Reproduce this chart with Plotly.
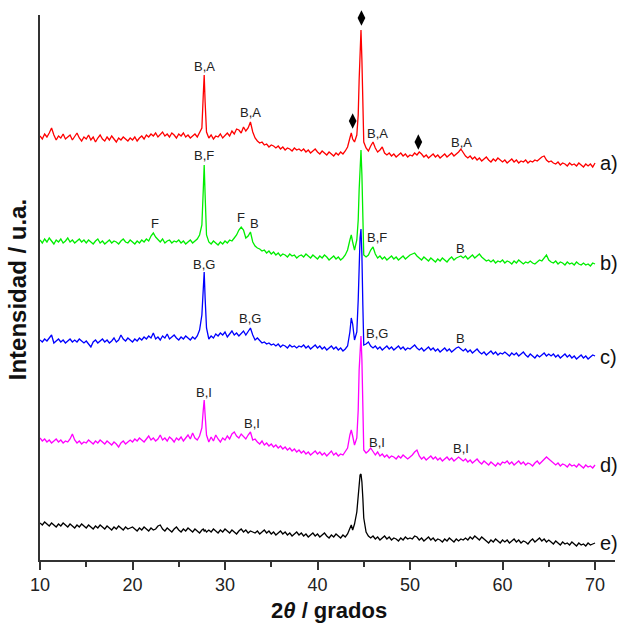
import plotly.graph_objects as go

# ---------------- data (2-theta grid and intensities, arbitrary units) ----------------
two_theta = [
    10.0, 10.25, 10.5, 10.75, 11.0, 11.25, 11.5, 11.75, 12.0, 12.25, 12.5, 12.75, 13.0, 13.25, 13.5, 13.75, 14.0, 14.25, 14.5, 14.75,
    15.0, 15.25, 15.5, 15.75, 16.0, 16.25, 16.5, 16.75, 17.0, 17.25, 17.5, 17.75, 18.0, 18.25, 18.5, 18.75, 19.0, 19.25, 19.5, 19.75,
    20.0, 20.25, 20.5, 20.75, 21.0, 21.25, 21.5, 21.75, 22.0, 22.25, 22.5, 22.75, 23.0, 23.25, 23.5, 23.75, 24.0, 24.25, 24.5, 24.75,
    25.0, 25.25, 25.5, 25.75, 26.0, 26.25, 26.5, 26.75, 27.0, 27.25, 27.5,
    27.65, 27.75, 27.85, 28.0,
    28.25, 28.5, 28.75, 29.0, 29.25, 29.5, 29.75, 30.0, 30.25, 30.5, 30.75, 31.0, 31.25, 31.5, 31.75, 32.0, 32.25, 32.5, 32.75, 33.0,
    33.25, 33.5, 33.75, 34.0, 34.25, 34.5, 34.75, 35.0, 35.25, 35.5, 35.75, 36.0, 36.25, 36.5, 36.75, 37.0, 37.25, 37.5, 37.75, 38.0,
    38.25, 38.5, 38.75, 39.0, 39.25, 39.5, 39.75, 40.0, 40.25, 40.5, 40.75, 41.0, 41.25, 41.5, 41.75, 42.0, 42.25, 42.5, 42.75, 43.0, 43.25,
    43.5, 43.65, 43.8, 44.0, 44.25, 44.4, 44.5, 44.6, 44.7, 44.8, 44.9, 45.0,
    45.25, 45.5, 45.75, 46.0, 46.25, 46.5, 46.75, 47.0, 47.25, 47.5, 47.75, 48.0, 48.25, 48.5, 48.75, 49.0, 49.25, 49.5, 49.75, 50.0,
    50.25, 50.5, 50.75, 51.0, 51.25, 51.5, 51.75, 52.0, 52.25, 52.5, 52.75, 53.0, 53.25, 53.5, 53.75, 54.0, 54.25, 54.5, 54.75, 55.0,
    55.25, 55.5, 55.75, 56.0, 56.25, 56.5, 56.75, 57.0, 57.25, 57.5, 57.75, 58.0, 58.25, 58.5, 58.75, 59.0, 59.25, 59.5, 59.75, 60.0,
    60.25, 60.5, 60.75, 61.0, 61.25, 61.5, 61.75, 62.0, 62.25, 62.5, 62.75, 63.0, 63.25, 63.5, 63.75, 64.0, 64.25, 64.5, 64.75, 65.0,
    65.25, 65.5, 65.75, 66.0, 66.25, 66.5, 66.75, 67.0, 67.25, 67.5, 67.75, 68.0, 68.25, 68.5, 68.75, 69.0, 69.25, 69.5, 69.75, 70.0,
]

int_a = [
    424, 421, 426, 423, 427, 432, 425, 420, 424, 422, 426, 421, 423, 425, 420, 424, 427, 422, 419, 423,
    421, 425, 420, 423, 418, 422, 425, 421, 419, 423, 420, 424, 421, 418, 422, 420, 423, 421, 419, 422,
    420, 423, 419, 422, 424, 421, 425, 423, 426, 424, 427, 423, 425, 428, 424, 426, 423, 427, 425, 422,
    426, 424, 427, 423, 425, 422, 424, 426, 423, 427, 432,
    465, 485, 458, 428,
    422, 425, 421, 424, 423, 426, 422, 425, 427, 424, 429, 426, 431, 430, 427, 433, 429, 432, 438, 428,
    422, 419, 417, 418, 415, 416, 413, 415, 414, 412, 414, 411, 413, 410, 412, 411, 409, 412, 410, 411,
    409, 411, 408, 410, 407, 409, 411, 408, 406, 409, 407, 405, 408, 406, 404, 407, 405, 408, 406, 409, 413,
    422, 427, 421, 418, 425, 445, 480, 518, 530, 500, 450, 418,
    412, 409, 414, 418, 412, 408, 410, 413, 407, 405, 407, 404, 406, 403, 405, 407, 404, 406, 403, 405,
    404, 407, 405, 408, 406, 403, 405, 402, 404, 406, 403, 405, 402, 404, 406, 403, 405, 407, 404, 406,
    408, 411, 407, 404, 402, 404, 401, 403, 400, 402, 399, 401, 403, 400, 398, 401, 399, 402, 400, 398,
    400, 397, 399, 401, 398, 400, 397, 399, 398, 400, 397, 399, 398, 400, 399, 401, 403, 404, 400, 398,
    399, 397, 396, 398, 395, 397, 396, 394, 397, 395, 396, 394, 397, 395, 393, 396, 394, 396, 393, 397,
]

int_b = [
    320, 317, 321, 318, 322, 319, 316, 320, 318, 321, 317, 319, 322, 318, 320, 317, 319, 321, 318, 320,
    317, 320, 318, 316, 319, 321, 317, 319, 316, 318, 320, 317, 319, 318, 316, 319, 321, 318, 317, 320,
    318, 316, 319, 317, 320, 318, 321, 319, 324, 327, 323, 320, 318, 321, 317, 319, 320, 317, 319, 318,
    320, 317, 319, 316, 318, 320, 317, 319, 321, 325, 335,
    370, 395, 365, 325,
    318, 316, 319, 317, 315, 318, 316, 319, 317, 320, 319, 322, 325, 330, 333, 330, 322, 324, 328, 318,
    314, 312, 311, 309, 310, 307, 309, 306, 308, 305, 307, 304, 306, 305, 303, 306, 304, 305, 302, 304,
    305, 303, 306, 304, 302, 305, 303, 301, 304, 302, 305, 303, 300, 302, 304, 301, 303, 300, 302, 305, 310,
    320, 325, 318, 310, 320, 340, 370, 400, 410, 385, 335, 305,
    303, 305, 310, 313, 306, 302, 304, 301, 303, 300, 302, 304, 301, 303, 300, 302, 304, 301, 303, 305,
    306, 307, 304, 302, 300, 303, 301, 299, 302, 300, 298, 301, 299, 302, 300, 298, 301, 303, 300, 302,
    303, 304, 302, 304, 301, 303, 305, 302, 304, 306, 303, 301, 299, 300, 298, 300, 297, 299, 298, 300,
    297, 299, 298, 296, 299, 297, 300, 298, 296, 298, 297, 299, 297, 296, 298, 300, 299, 302, 305, 300,
    298, 297, 299, 296, 298, 297, 295, 298, 296, 297, 295, 298, 296, 295, 297, 295, 296, 294, 297, 296,
]

int_c = [
    220, 218, 221, 219, 222, 225, 217, 219, 221, 218, 220, 217, 219, 221, 218, 220, 218, 221, 219, 217,
    219, 216, 213, 218, 220, 217, 219, 221, 218, 220, 217, 219, 222, 218, 220, 225, 221, 219, 222, 220,
    218, 221, 219, 222, 220, 223, 221, 224, 222, 227, 221, 223, 220, 224, 222, 226, 221, 223, 225, 222,
    220, 223, 221, 224, 222, 220, 223, 221, 224, 230, 245,
    270, 288, 262, 232,
    221, 224, 222, 226, 224, 227, 225, 228, 223, 226, 229, 225, 227, 224, 226, 229, 225, 228, 232, 225,
    220, 222, 219, 217, 218, 216, 217, 215, 216, 214, 216, 213, 215, 214, 212, 215, 213, 214, 212, 214,
    213, 215, 212, 214, 211, 213, 215, 212, 214, 211, 213, 210, 212, 214, 211, 213, 210, 212, 209, 211, 214,
    228, 242, 236, 220, 228, 260, 295, 322, 331, 305, 255, 215,
    216, 218, 214, 212, 214, 211, 213, 210, 212, 214, 211, 213, 210, 212, 214, 211, 213, 210, 212, 211,
    213, 215, 212, 210, 212, 209, 211, 213, 210, 212, 209, 211, 208, 210, 212, 209, 211, 208, 210, 212,
    213, 211, 209, 211, 208, 210, 207, 209, 211, 208, 206, 208, 205, 207, 209, 206, 208, 205, 207, 206,
    208, 206, 204, 207, 205, 207, 204, 206, 208, 205, 203, 206, 204, 202, 205, 203, 205, 207, 204, 206,
    204, 206, 203, 205, 202, 204, 206, 203, 205, 202, 204, 201, 203, 205, 202, 204, 201, 203, 205, 204,
]

int_d = [
    122, 119, 121, 118, 120, 117, 119, 121, 118, 120, 117, 119, 118, 121, 126, 120, 117, 119, 116, 118,
    117, 120, 118, 116, 119, 117, 120, 118, 116, 119, 117, 115, 118, 116, 113, 117, 119, 116, 118, 120,
    118, 121, 119, 122, 120, 118, 121, 124, 120, 122, 119, 121, 125, 120, 122, 119, 123, 121, 118, 122,
    120, 123, 119, 122, 125, 121, 127, 122, 120, 124, 132,
    150, 160, 145, 125,
    118, 123, 119, 125, 121, 118, 122, 120, 124, 121, 126, 128, 124, 122, 126, 123, 121, 125, 128, 120,
    121, 118, 116, 119, 115, 117, 114, 116, 113, 115, 112, 114, 111, 113, 110, 112, 109, 111, 108, 110,
    107, 109, 106, 108, 105, 107, 109, 106, 108, 105, 107, 104, 106, 109, 105, 107, 104, 106, 105, 108, 112,
    125, 130, 124, 115, 122, 150, 190, 218, 224, 200, 150, 110,
    107, 109, 112, 108, 105, 108, 104, 106, 103, 105, 102, 104, 103, 101, 104, 102, 105, 103, 101, 103,
    105, 108, 110, 104, 101, 103, 100, 102, 104, 101, 103, 100, 102, 99, 101, 103, 100, 102, 99, 101,
    103, 101, 99, 101, 98, 100, 97, 99, 101, 98, 96, 99, 97, 95, 98, 96, 94, 97, 95, 98,
    97, 99, 96, 98, 95, 97, 99, 96, 98, 95, 97, 96, 94, 97, 99, 96, 98, 100, 103, 101,
    99, 97, 95, 97, 94, 96, 95, 93, 96, 94, 95, 93, 96, 94, 92, 95, 93, 94, 92, 95,
]

int_e = [
    37, 35, 38, 36, 34, 37, 35, 33, 36, 34, 37, 35, 33, 36, 34, 32, 35, 33, 36, 34,
    32, 35, 33, 31, 34, 32, 35, 33, 31, 34, 32, 30, 33, 31, 34, 32, 30, 33, 31, 32,
    33, 31, 29, 32, 30, 33, 31, 29, 32, 30, 31, 34, 35, 31, 29, 32, 30, 28, 31, 33,
    30, 28, 31, 29, 32, 30, 28, 31, 29, 27, 30,
    31, 29, 30, 28,
    30, 28, 31, 29, 27, 30, 28, 31, 29, 27, 30, 28, 26, 29, 31, 28, 30, 27, 29, 28,
    27, 29, 26, 28, 30, 27, 29, 26, 28, 25, 27, 29, 26, 28, 25, 27, 24, 26, 28, 25,
    27, 24, 26, 23, 25, 27, 24, 26, 23, 25, 27, 24, 22, 25, 23, 26, 24, 22, 25, 23, 26,
    33, 35, 30, 36, 48, 65, 78, 85, 86, 78, 62, 42,
    28, 24, 22, 24, 21, 23, 20, 22, 24, 21, 23, 20, 22, 21, 19, 22, 20, 23, 21, 22,
    21, 24, 23, 20, 22, 19, 21, 23, 20, 22, 19, 21, 20, 18, 21, 19, 22, 20, 18, 21,
    19, 21, 20, 22, 20, 23, 21, 24, 22, 20, 23, 21, 19, 17, 20, 18, 21, 19, 17, 20,
    18, 20, 17, 19, 21, 18, 20, 17, 19, 18, 16, 19, 21, 18, 20, 22, 19, 21, 18, 20,
    18, 16, 19, 17, 15, 18, 16, 17, 15, 18, 16, 14, 17, 15, 16, 14, 17, 15, 16, 17,
]

series_names = ["a)", "b)", "c)", "d)", "e)"]
series_values = [int_a, int_b, int_c, int_d, int_e]
series_end_level = [397, 297, 203, 95, 17]

# phase labels: text, 2theta, intensity level
peak_label_text = ["B,A", "B,A", "B,A", "B,A",
                   "B,F", "F", "F", "B", "B,F", "B",
                   "B,G", "B,G", "B,G", "B",
                   "B,I", "B,I", "B,I", "B,I"]
peak_label_x = [27.75, 32.75, 46.45, 55.55,
                27.75, 22.45, 31.75, 33.2, 46.45, 55.5,
                27.75, 32.75, 46.45, 55.5,
                27.75, 32.9, 46.45, 55.55]
peak_label_y = [494, 448, 427, 418,
                405, 337, 343, 337, 323, 312,
                296, 242, 227, 222,
                168, 137, 118, 112]

diamond_x = [44.75, 43.8, 50.9]
diamond_y = [542, 439, 418]

# ---------------- styling ----------------
colors = ["#ff0000", "#00ee00", "#0000ff", "#ff00ff", "#000000"]
FONT = "Arial, Liberation Sans, sans-serif"
AXC = "#333333"

for s in series_values:
    assert len(s) == len(two_theta), (len(s), len(two_theta))

fig = go.Figure()
for name, vals, col in zip(series_names, series_values, colors):
    fig.add_trace(go.Scatter(x=two_theta, y=vals, mode="lines", name=name,
                             line=dict(color=col, width=1.3), showlegend=False,
                             hoverinfo="skip"))

fig.add_trace(go.Scatter(x=diamond_x, y=diamond_y, mode="markers", showlegend=False,
                         marker=dict(symbol="diamond-tall", size=11, color="#000000"),
                         cliponaxis=False, hoverinfo="skip"))

annotations = []
for t, x, y in zip(peak_label_text, peak_label_x, peak_label_y):
    annotations.append(dict(x=x, y=y, xref="x", yref="y", text=t, showarrow=False,
                            xanchor="center", yanchor="middle",
                            font=dict(family=FONT, size=13, color="#222222")))
for name, lvl in zip(series_names, series_end_level):
    annotations.append(dict(x=70.35, y=lvl, xref="x", yref="y", text=name, showarrow=False,
                            xanchor="left", yanchor="middle",
                            font=dict(family=FONT, size=20, color="#111111")))

annotations.append(dict(x=0.503, y=-0.092, xref="paper", yref="paper",
                        text="<b>2<i>θ</i> / grados</b>", showarrow=False,
                        xanchor="center", yanchor="middle",
                        font=dict(family=FONT, size=22, color="#111111")))
annotations.append(dict(x=-0.04, y=0.495, xref="paper", yref="paper",
                        text="<b>Intensidad / u.a.</b>", showarrow=False, textangle=-90,
                        xanchor="center", yanchor="middle",
                        font=dict(family=FONT, size=24, color="#111111")))

fig.update_layout(
    width=623, height=624,
    margin=dict(l=40, r=8, t=15, b=64),
    paper_bgcolor="white", plot_bgcolor="white",
    annotations=annotations,
    font=dict(family=FONT),
)
fig.update_xaxes(range=[10, 72.16], showline=True, linecolor=AXC, linewidth=1.5,
                 ticks="outside", ticklen=8, tickwidth=1.5, tickcolor=AXC,
                 tickvals=[10, 20, 30, 40, 50, 60, 70],
                 minor=dict(ticks="outside", ticklen=5, tickwidth=1.5, tickcolor=AXC,
                            tickvals=[15, 25, 35, 45, 55, 65]),
                 tickfont=dict(family=FONT, size=18, color="#222222"),
                 showgrid=False, zeroline=False)
fig.update_yaxes(range=[0, 545], showline=True, linecolor=AXC, linewidth=1.5,
                 showticklabels=False, ticks="", showgrid=False, zeroline=False)

fig.write_html("out.html",
               config={"displayModeBar": False},
               post_script="document.body.style.margin='0px';document.body.style.overflow='hidden';")
